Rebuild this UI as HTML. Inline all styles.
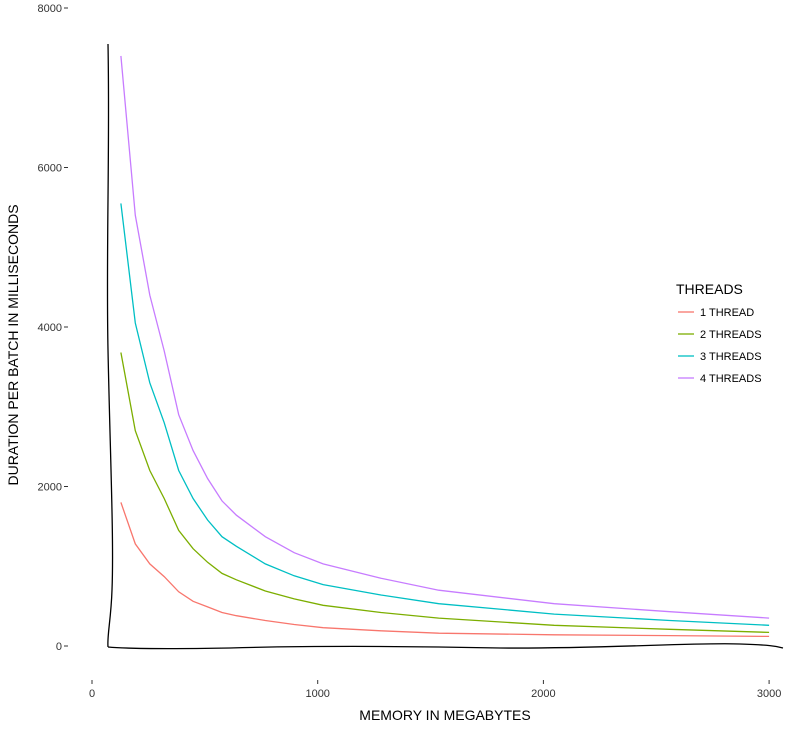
<!DOCTYPE html>
<html><head><meta charset="utf-8"><style>
body{margin:0;background:#fff;}
text{font-family:"Liberation Sans",sans-serif;}
</style></head><body>
<svg id="chart" width="800" height="729">
<path d="M108,44 C110,150 106,250 108,350 C110,450 114,540 112,590 C111,620 107,635 108,647" fill="none" stroke="#000" stroke-width="1.3"/>
<path d="M108,647 C130,649 170,649 230,648 C300,646 400,646 500,648 C600,649 700,642 740,644 C770,645 775,646 783,648" fill="none" stroke="#000" stroke-width="1.3"/>
<g id="yticks"></g>
<g id="xticks"></g>
<g id="lines"></g>
<text x="445" y="720" text-anchor="middle" font-size="14">MEMORY IN MEGABYTES</text>
<text transform="translate(18,345) rotate(-90)" text-anchor="middle" font-size="14">DURATION PER BATCH IN MILLISECONDS</text>
<g>
<text x="676" y="294" font-size="14">THREADS</text>
<g id="legend"></g>
</g>
</svg>
<script>
const memory=[128,192,256,320,384,448,512,576,640,768,896,1024,1280,1536,2048,2560,3000];
const thread1=[1800,1280,1030,870,680,560,490,420,380,320,270,230,190,160,140,130,120];
const thread2=[3680,2700,2200,1850,1450,1220,1050,910,830,690,590,510,420,350,260,210,170];
const thread3=[5550,4050,3300,2800,2200,1850,1580,1370,1250,1030,880,770,640,530,400,320,260];
const thread4=[7400,5400,4400,3700,2900,2450,2100,1820,1640,1370,1170,1030,850,700,530,430,350];
const seriesNames=["1 THREAD","2 THREADS","3 THREADS","4 THREADS"];
const colors=["#f8766d","#7cae00","#00bfc4","#c77cff"];
const yTicks=[0,2000,4000,6000,8000];
const xTicks=[0,1000,2000,3000];
const NS="http://www.w3.org/2000/svg";
const xs=v=>92+v*0.2257;
const ys=v=>646-v*0.07975;
const yt=document.getElementById('yticks');
yTicks.forEach(t=>{
 const tx=document.createElementNS(NS,'text');
 
 
 tx.setAttribute('x',62);tx.setAttribute('y',ys(t)+4);tx.setAttribute('text-anchor','end');tx.setAttribute('font-size','11');tx.setAttribute('fill','#333');
 tx.textContent=t;yt.appendChild(tx);
 const l=document.createElementNS(NS,'line');
 
 
 l.setAttribute('x1',64);l.setAttribute('x2',68);l.setAttribute('y1',ys(t));l.setAttribute('y2',ys(t));l.setAttribute('stroke','#333');
 yt.appendChild(l);
});
const xt=document.getElementById('xticks');
xTicks.forEach(t=>{
 const tx=document.createElementNS(NS,'text');
 
 
 tx.setAttribute('x',xs(t));tx.setAttribute('y',697);tx.setAttribute('text-anchor','middle');tx.setAttribute('font-size','11');tx.setAttribute('fill','#333');
 tx.textContent=t;xt.appendChild(tx);
 const l=document.createElementNS(NS,'line');
 
 
 l.setAttribute('x1',xs(t));l.setAttribute('x2',xs(t));l.setAttribute('y1',680);l.setAttribute('y2',684);l.setAttribute('stroke','#333');
 xt.appendChild(l);
});
const g=document.getElementById('lines');
const lg=document.getElementById('legend');
[thread1,thread2,thread3,thread4].forEach((s,i)=>{
 const p=document.createElementNS(NS,'path');
 
 
 p.setAttribute('d',s.map((v,j)=>(j?'L':'M')+xs(memory[j]).toFixed(1)+','+ys(v).toFixed(1)).join(''));
 p.setAttribute('fill','none');p.setAttribute('stroke',colors[i]);p.setAttribute('stroke-width','1.3');
 g.appendChild(p);
 const y=312+i*22;
 const l=document.createElementNS(NS,'line');
 
 
 l.setAttribute('x1',678);l.setAttribute('x2',694);l.setAttribute('y1',y);l.setAttribute('y2',y);l.setAttribute('stroke',colors[i]);l.setAttribute('stroke-width','1.3');
 lg.appendChild(l);
 const t=document.createElementNS(NS,'text');
 
 
 t.setAttribute('x',700);t.setAttribute('y',y+4);t.setAttribute('font-size','11');
 t.textContent=seriesNames[i];lg.appendChild(t);
});
</script>
</body></html>
